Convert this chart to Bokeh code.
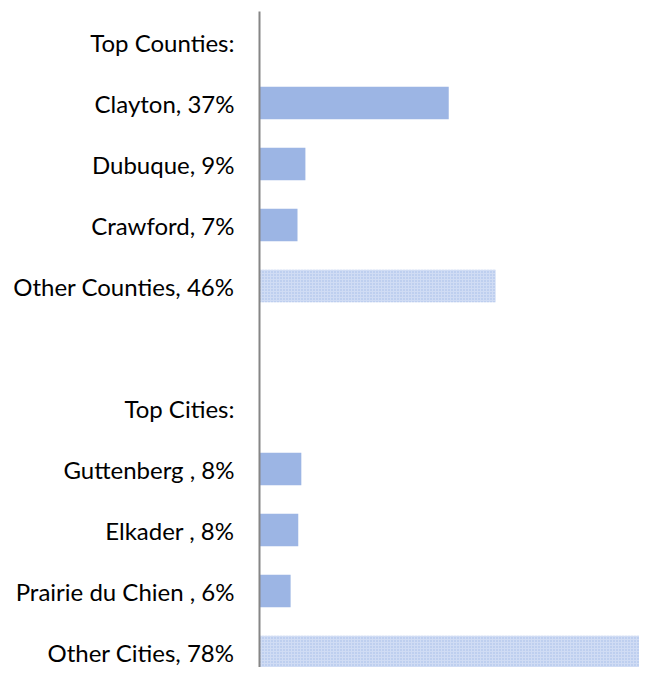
from bokeh.plotting import figure
from bokeh.models import Range1d, FixedTicker
from bokeh.embed import file_html
from bokeh.resources import INLINE

labels = ["Top Counties:", "Clayton, 37%", "Dubuque, 9%", "Crawford, 7%", "Other Counties, 46%",
          "", "Top Cities:", "Guttenberg , 8%", "Elkader , 8%", "Prairie du Chien , 6%", "Other Cities, 78%"]
solid_rows = [1, 2, 3, 7, 8, 9]
solid_values = [37.1, 9.0, 7.45, 8.2, 7.6, 6.1]
other_rows = [4, 10]
other_values = [46.3, 78.0]

p = figure(width=639, height=667, output_backend="svg", toolbar_location=None,
           x_range=Range1d(0, 74.5), y_range=Range1d(10.254, -0.5),
           min_border_left=259, min_border_top=11, min_border_bottom=0, min_border_right=0)
p.outline_line_color = None
p.xgrid.visible = False
p.ygrid.visible = False
p.xaxis.visible = False

p.hbar(y=solid_rows, right=solid_values, left=0, height=0.535,
       fill_color="#9cb5e4", line_color=None)
p.hbar(y=other_rows, right=other_values, left=0, height=0.535,
       fill_color="#d0dcf4", line_color=None,
       hatch_pattern="dot", hatch_color="#a3bbe8", hatch_scale=3, hatch_weight=1.5)

ax = p.yaxis[0]
ax.ticker = FixedTicker(ticks=list(range(len(labels))))
ax.major_label_overrides = {i: (t if t else " ") for i, t in enumerate(labels)}
ax.major_tick_line_color = None
ax.minor_tick_line_color = None
ax.axis_line_color = "#868686"
ax.axis_line_width = 2
ax.major_label_standoff = 19
ax.major_label_text_font = "Lato"
ax.major_label_text_font_size = "24px"
ax.major_label_text_color = "#000000"

open("out.html", "w").write(file_html(p, INLINE))
